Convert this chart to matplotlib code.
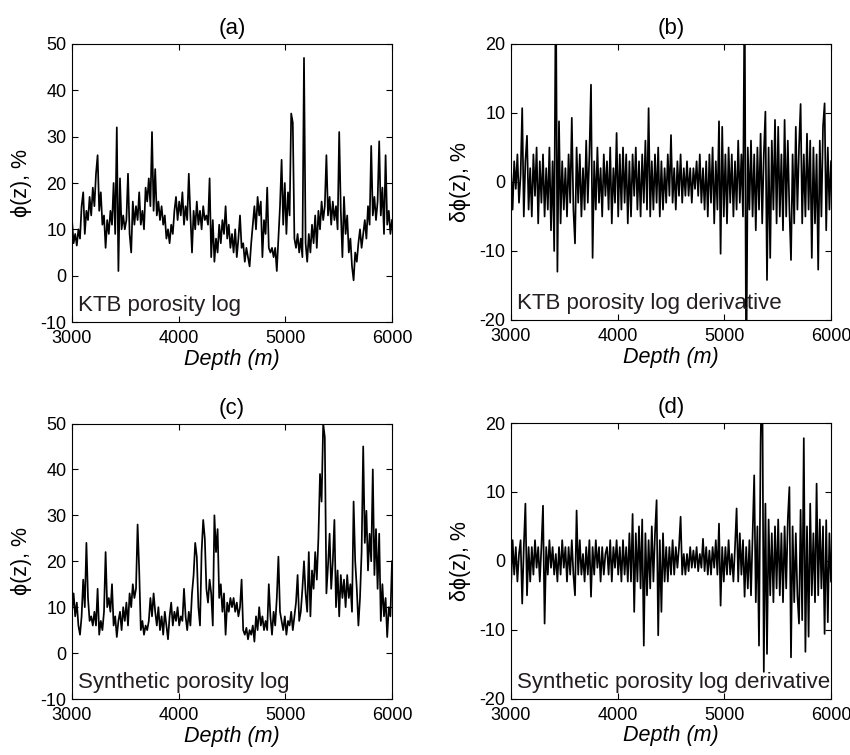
import matplotlib
matplotlib.use("Agg")
import matplotlib.pyplot as plt
import numpy as np

# depth sampling of the logs (m)
DEPTH_START = 3000
DEPTH_END = 6000
DEPTH_STEP = 15

# KTB porosity log, %
ktb_porosity = [
    12, 7, 9, 6.5, 10, 8, 15, 18, 9, 14,
    12, 17, 13, 19, 15, 22, 26, 14, 18, 11,
    13, 6, 12, 9, 14, 11, 20, 9, 32, 1,
    21, 10, 13, 10, 12, 22, 9, 5, 16, 11,
    15, 12, 18, 11, 14, 10, 19, 16, 21, 15,
    31, 14, 23, 13, 16, 12, 15, 11, 13, 8,
    10, 7, 11, 9, 14, 17, 12, 16, 13, 18,
    11, 15, 12, 22, 13, 5, 14, 10, 16, 11,
    14, 10, 15, 12, 13, 11, 21, 4, 12, 3,
    8, 5, 11, 7, 12, 9, 15, 8, 11, 6,
    9, 5, 10, 4, 8, 13, 6, 7, 3, 6,
    4, 2, 7, 11, 15, 10, 17, 13, 16, 4,
    12, 9, 19, 6, 5, 6, 4, 6, 1, 8,
    15, 25, 11, 20, 9, 18, 13, 35, 33, 8,
    6, 9, 5, 8, 4, 47, 7, 3, 9, 5,
    11, 7, 13, 6, 14, 10, 16, 12, 15, 26,
    13, 17, 11, 16, 12, 15, 10, 31, 14, 4,
    17, 9, 13, 5, 8, 2, -1, 5, 3, 7,
    10, 6, 9, 12, 8, 15, 11, 28, 13, 17,
    12, 16, 29, 13, 19, 9, 26, 11, 14, 9,
    12,
]

# KTB porosity log derivative, %
ktb_derivative = [
    2, -4, 3, -1, 4, -3, 1, 10.7, -5, 3,
    6.7, -4, 2, -5, 4, -2, 5, -6, 3, -3,
    4, -5, 2, -4, 5, -7, 3, -10, 31, -13,
    8.8, -6, 3, -4, 2, -5, 4, -3, 9.3, -4,
    -8.9, 5, -3, 4, -5, 2, -4, 6, -3, 4,
    14.1, -11, 3, -4, 5, -3, 2, -5, 4, -2,
    3, -4, 5, -6, 2, -3, 7.1, -5, 4, -4,
    5, -3, 4, -6, 3, -5, 4, -2, 5, -4,
    3, -5, 4, -3, 6, -4, 10.7, -5, 3, -4,
    4, -3, 5, -5, 3, -4, 2, -3, 4, -2,
    6.8, -3, 2, -4, 3, -2, 4, -3, 2, -2,
    3, -2, 2, -3, 2, -1, 3, -2, 4, -3,
    2, -4, 3, -5, 4, -3, 5, -6, 3, -4,
    8.8, -10.4, 8, -5, 4, -6, 5, -3, 4, -5,
    3, -4, 6, -3, 4, -5, 30, -30, 5, -4,
    6, -5, 4, -7, 5, -4, 7, -6, 4, 10.2,
    -14.2, 5, -11, 6, -4, 9, -6, 8, -5, 4,
    -7, 9, -5, 6, -4, -11.3, 4, -6, 8, -4,
    5, 11.3, -6, 4, -5, 7, -4, 6, -11, 5,
    -6, 4, -12.7, 6, -5, 8, 11.4, -7, 5, -4,
    3,
]

# synthetic porosity log, %
syn_porosity = [
    9, 13, 8, 11, 6, 4, 8, 16, 10, 24,
    12, 7, 8, 6, 9, 6, 14, 4, 7, 5,
    9, 22, 10, 12, 9, 15, 6, 8, 3.5, 7,
    9, 5, 10, 7, 11, 6, 13, 10, 15, 12,
    14, 28, 18, 5, 7, 4, 6, 5, 7, 12,
    8, 13, 9, 6, 10, 5, 8, 4, 9, 6,
    3, 8, 11, 6, 9, 7, 10, 6, 8, 7,
    14, 8, 5, 9, 6, 13, 17, 24, 21, 10,
    6, 22, 29, 25, 14, 11, 16, 13, 6, 30,
    22, 27, 12, 15, 9, 13, 4, 11, 9, 12,
    10, 12, 9, 11, 8, 10, 16, 5, 4, 5.5,
    3, 5, 4, 6, 2.5, 8, 5, 10, 6, 8,
    5, 7, 5, 15, 8, 4, 9, 6, 12, 21,
    9, 7, 5, 8, 4, 7, 6, 9, 5, 8,
    11, 17, 7, 9, 14, 20, 13, 9, 22, 8,
    18, 14, 22, 16, 25, 39, 33, 50, 47, 13,
    19, 26, 14, 20, 29, 10, 18, 8, 17, 12,
    16, 10, 17, 12, 15, 9, 33, 20, 14, 6,
    12, 22, 45, 24, 31, 18, 26, 20, 40, 17,
    27, 14, 26, 7, 15, 8, 12, 3.5, 10, 8,
    20,
]

# synthetic porosity log derivative, %
syn_derivative = [
    -4, 3, -2, 2, -3, 1, 3, -6.2, 2, 8.3,
    -5, 2, -3, 2, -2, 3, -1, 2, -3, 2,
    8, -9.1, 2, -2, 3, -1, 2, -2, 1, -3,
    2, -2, 3, -1, 2, -3, 2, -2, 3, -2,
    -5, 7.3, -2, 3, -2, 1, -3, 2, -2, 3,
    -5.2, 2, -2, 3, -1, 2, -3, 2, -2, 1,
    2, -2, 3, -3, 2, -1, 3, -2, 2, -3,
    3, -2, 2, -3, 4, -3, 6.8, -7.4, 4, -3,
    5, -4, 6, -12.3, 4, -5, 3, -4, 5, -3,
    4, 8.8, -10.8, 3, -7.4, 4, -3, 2, -3, 2,
    -2, 3, -2, 2, -1, 2, 6.4, -2, 1, -2,
    1, -1.5, 2, -1, 1.5, -1, 2, -1.5, 1, -1,
    3.2, -1.5, 2, -2, 1.5, -2, 2, -1, 3, -2,
    5.4, -6.5, 2, -3, 2, -2, 3, -2, 1, -3,
    2, 7.6, -3, 4, -2, 3, -5.2, 2, -4, 3,
    -5, 4, 12.4, -6, 5, -12.3, 17, 30, -16.1, 8.3,
    -13.5, 6, -5, 4, -6, 5, -4, 6, -5, 4,
    -6, 5, -4, 6, 10.7, -14, 5, -6, 4, -5,
    -9.1, 7.4, -8.6, 17.8, -13.2, 5, -11, 8.3, -5, 4,
    -6, 11.2, -5, 6, -4, 5, -10.6, 5.9, -8.9, 4,
    -3,
]

panel_titles = ["(a)", "(b)", "(c)", "(d)"]
panel_notes = ["KTB porosity log", "KTB porosity log derivative",
               "Synthetic porosity log", "Synthetic porosity log derivative"]
log_ylabel = "\u03d5(z), %"
deriv_ylabel = "\u03b4\u03d5(z), %"
depth_ticks = [3000, 4000, 5000, 6000]
log_ticks = [-10, 0, 10, 20, 30, 40, 50]
deriv_ticks = [-20, -10, 0, 10, 20]

plt.rcParams['font.family'] = ['Liberation Sans', 'DejaVu Sans']
plt.rcParams['axes.unicode_minus'] = False


def draw_panel(ax, depth, values, yticks, ylabel, title, note):
    ax.plot(depth, values, color='black', linewidth=1.25)
    ax.set_xlim(DEPTH_START, DEPTH_END)
    ax.set_ylim(yticks[0], yticks[-1])
    ax.set_xticks(depth_ticks)
    ax.set_yticks(yticks)
    ax.tick_params(direction='in', top=True, right=True, length=4, width=0.8,
                   labelsize=13, colors='black')
    ax.tick_params(axis='x', pad=6)
    ax.tick_params(axis='y', pad=4)
    for sp in ax.spines.values():
        sp.set_linewidth(0.8)
    ax.set_xlabel("Depth (m)", fontsize=15.5, style='italic', labelpad=1)
    ax.set_ylabel(ylabel, fontsize=15.5, labelpad=6)
    ax.set_title(title, fontsize=16, pad=7)
    ax.text(0.018, 0.04, note, transform=ax.transAxes, fontsize=16,
            color='#231f20', ha='left', va='baseline')


def main():
    depth = np.arange(DEPTH_START, DEPTH_END + 1, DEPTH_STEP)
    series = [ktb_porosity, ktb_derivative, syn_porosity, syn_derivative]
    for s in series:
        assert len(s) == len(depth), len(s)

    fig = plt.figure(figsize=(8.5, 7.55), dpi=100)
    rects = [
        [72 / 850, 1 - 322 / 755, 320 / 850, 278 / 755],
        [511 / 850, 1 - 320 / 755, 320 / 850, 276 / 755],
        [72 / 850, 1 - 699 / 755, 320 / 850, 275.5 / 755],
        [511 / 850, 1 - 698.7 / 755, 320 / 850, 275.7 / 755],
    ]
    for i, rect in enumerate(rects):
        ax = fig.add_axes(rect)
        is_deriv = i % 2 == 1
        draw_panel(ax, depth, series[i],
                   deriv_ticks if is_deriv else log_ticks,
                   deriv_ylabel if is_deriv else log_ylabel,
                   panel_titles[i], panel_notes[i])

    fig.savefig("out.png", dpi=100)


if __name__ == "__main__":
    main()
